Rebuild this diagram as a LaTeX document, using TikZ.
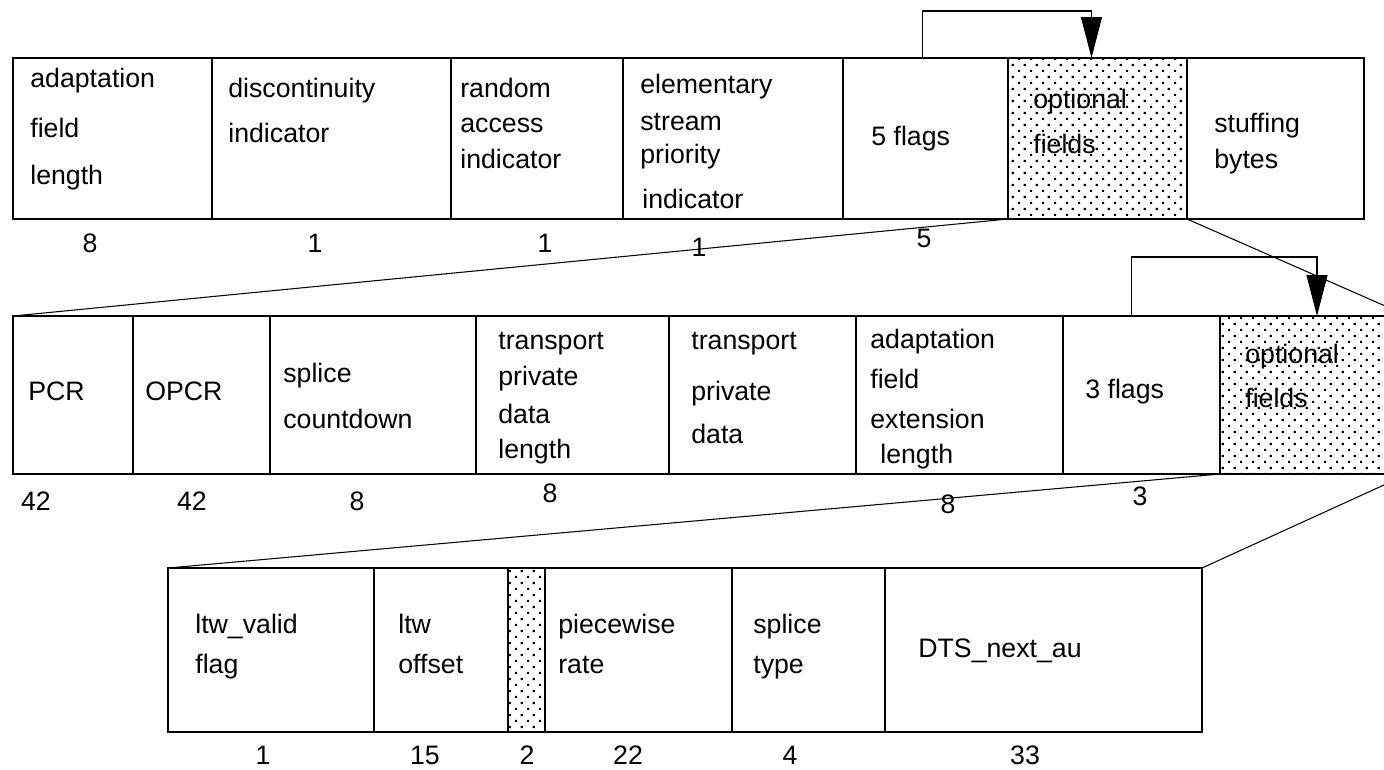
\documentclass[tikz,border=0pt]{standalone}
\usepackage{fontspec}
\setmainfont{Liberation Sans}
\usetikzlibrary{arrows.meta,fit,patterns}

% staggered dot fill used for the optional-field cells
\pgfdeclarepatternformonly{stipple}{\pgfqpoint{0pt}{0pt}}{\pgfqpoint{6.66pt}{6.7pt}}{\pgfqpoint{6.66pt}{6.7pt}}{%
  \pgfpathrectangle{\pgfqpoint{0pt}{0pt}}{\pgfqpoint{1.3pt}{1.3pt}}%
  \pgfpathrectangle{\pgfqpoint{3.33pt}{3.35pt}}{\pgfqpoint{1.3pt}{1.3pt}}%
  \pgfusepath{fill}}

\begin{document}
\begin{tikzpicture}[x=0.02cm,y=-0.02cm,
  cell/.style={draw=black, line width=0.6pt, inner sep=0pt, outer sep=0pt, fit={#1}},
  optcell/.style={cell={#1}, pattern=stipple},
  lbl/.style={anchor=base west, inner sep=0pt, font=\fontsize{15.2pt}{18pt}\selectfont},
  num/.style={anchor=base, inner sep=0pt, font=\fontsize{15.2pt}{18pt}\selectfont},
  link/.style={line width=0.6pt},
  jump/.style={line width=0.6pt, -{Triangle[length=0.82cm,width=0.42cm]}}]

\useasboundingbox (0,0) rectangle (1384,769);
\clip (0,0) rectangle (1384,769);

% ---- adaptation field header ----
\node[cell={(13,58) (212,219)}]   (afl)  {};
\node[cell={(212,58) (451,219)}]  (disc) {};
\node[cell={(451,58) (623,219)}]  (rai)  {};
\node[cell={(623,58) (843,219)}]  (espi) {};
\node[cell={(843,58) (1008,219)}] (fl5)  {};
\node[optcell={(1008,58) (1187,219)}] (opt1) {};
\node[cell={(1187,58) (1364,219)}] (stuff) {};

\node[lbl] (t1a) at (30,87)  {adaptation};
\node[lbl] (t1b) at (30,137) {field};
\node[lbl] (t1c) at (30,184) {length};
\node[lbl] (t2a) at (228,97)  {discontinuity};
\node[lbl] (t2b) at (228,142) {indicator};
\node[lbl] (t3a) at (460,97)  {random};
\node[lbl] (t3b) at (460,132) {access};
\node[lbl] (t3c) at (460,168) {indicator};
\node[lbl] (t4a) at (640,93)  {elementary};
\node[lbl] (t4b) at (640,130) {stream};
\node[lbl] (t4c) at (640,163) {priority};
\node[lbl] (t4d) at (642,208) {indicator};
\node[lbl] (t5)  at (871,145) {5 flags};
\node[lbl] (t6a) at (1033,108) {optional};
\node[lbl] (t6b) at (1033,153) {fields};
\node[lbl] (t7a) at (1214,132) {stuffing};
\node[lbl] (t7b) at (1214,168) {bytes};

\node[num] (n1) at (90,252)  {8};
\node[num] (n2) at (315,252) {1};
\node[num] (n3) at (545,252) {1};
\node[num] (n4) at (699,256) {1};
\node[num] (n5) at (924,247) {5};

\draw[jump] ([xshift=-0.06cm]fl5.north) -- ++(0,-47) -| ([xshift=-0.12cm]opt1.north);

% ---- optional fields ----
\node[cell={(13,316) (133,474)}]    (pcr)   {};
\node[cell={(133,316) (270,474)}]   (opcr)  {};
\node[cell={(270,316) (476,474)}]   (splc)  {};
\node[cell={(476,316) (669,474)}]   (tpdl)  {};
\node[cell={(669,316) (856,474)}]   (tpd)   {};
\node[cell={(856,316) (1063,474)}]  (afel)  {};
\node[cell={(1063,316) (1220,474)}] (fl3)   {};
\node[optcell={(1220,316) (1408,474)}] (opt2) {};

\node[lbl] (u1)  at (28,400)  {PCR};
\node[lbl] (u2)  at (145,400) {OPCR};
\node[lbl] (u3a) at (283,382) {splice};
\node[lbl] (u3b) at (283,428) {countdown};
\node[lbl] (u4a) at (498,349) {transport};
\node[lbl] (u4b) at (498,385) {private};
\node[lbl] (u4c) at (498,423) {data};
\node[lbl] (u4d) at (498,458) {length};
\node[lbl] (u5a) at (691,349) {transport};
\node[lbl] (u5b) at (691,400) {private};
\node[lbl] (u5c) at (691,443) {data};
\node[lbl] (u6a) at (870,348) {adaptation};
\node[lbl] (u6b) at (870,388) {field};
\node[lbl] (u6c) at (870,428) {extension};
\node[lbl] (u6d) at (880,463) {length};
\node[lbl] (u7)  at (1085,398) {3 flags};
\node[lbl] (u8a) at (1245,363) {optional};
\node[lbl] (u8b) at (1245,407) {fields};

\node[num] (m1) at (36,510)   {42};
\node[num] (m2) at (192,510)  {42};
\node[num] (m3) at (357,510)  {8};
\node[num] (m4) at (550,502)  {8};
\node[num] (m5) at (948,513)  {8};
\node[num] (m6) at (1140,505) {3};

\draw[jump] ([xshift=-0.2cm]fl3.north) -- ++(0,-59) -| ([xshift=0.06cm]opt2.north);

% ---- second-level optional fields ----
\node[cell={(168,568) (374,732)}]  (ltwv) {};
\node[cell={(374,568) (508,732)}]  (ltwo) {};
\node[optcell={(508,568) (545,732)}] (resv) {};
\node[cell={(545,568) (732,732)}]  (pwr)  {};
\node[cell={(732,568) (885,732)}]  (spt)  {};
\node[cell={(885,568) (1202,732)}] (dts)  {};

\node[lbl] (v1a) at (195,633) {ltw\_valid};
\node[lbl] (v1b) at (195,673) {flag};
\node[lbl] (v2a) at (398,633) {ltw};
\node[lbl] (v2b) at (398,673) {offset};
\node[lbl] (v3a) at (558,633) {piecewise};
\node[lbl] (v3b) at (558,673) {rate};
\node[lbl] (v4a) at (753,633) {splice};
\node[lbl] (v4b) at (753,673) {type};
\node[lbl] (v5)  at (918,657) {DTS\_next\_au};

\node[num] (k1) at (263,764)  {1};
\node[num] (k2) at (425,764)  {15};
\node[num] (k3) at (527,764)  {2};
\node[num] (k4) at (628,764)  {22};
\node[num] (k5) at (790,764)  {4};
\node[num] (k6) at (1025,764) {33};

% ---- expansion lines ----
\draw[link] (opt1.south west) -- (pcr.north west);
\draw[link] (opt1.south east) -- (opt2.north east);
\draw[link] (opt2.south west) -- (ltwv.north west);
\draw[link] (opt2.south east) -- (dts.north east);
\end{tikzpicture}
\end{document}
